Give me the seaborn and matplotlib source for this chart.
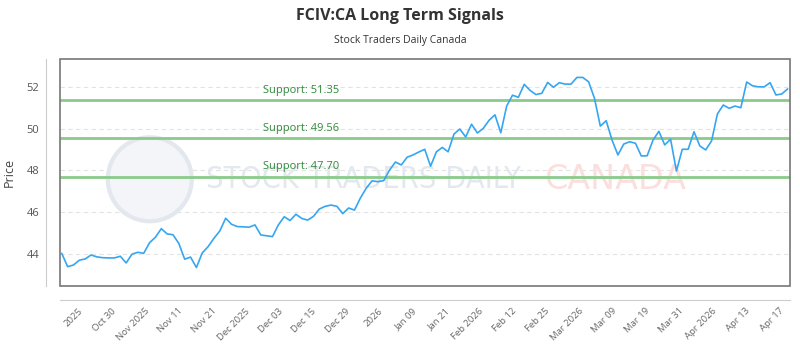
import numpy as np
import pandas as pd
import matplotlib
matplotlib.use("Agg")
import matplotlib.pyplot as plt
import seaborn as sns
from matplotlib.patches import Ellipse, Rectangle

# prix (125 séances)
prices = [
    44.03, 43.39, 43.47, 43.70, 43.76, 43.95, 43.86, 43.82, 43.81, 43.81,
    43.89, 43.57, 43.99, 44.08, 44.03, 44.54, 44.80, 45.21, 44.96, 44.92,
    44.50, 43.75, 43.85, 43.35, 44.05, 44.35, 44.75, 45.10, 45.71, 45.42,
    45.31, 45.30, 45.28, 45.39, 44.91, 44.87, 44.83, 45.39, 45.78, 45.60,
    45.90, 45.70, 45.62, 45.80, 46.15, 46.28, 46.34, 46.28, 45.93, 46.20,
    46.10, 46.67, 47.14, 47.50, 47.46, 47.51, 48.02, 48.40, 48.26, 48.63,
    48.74, 48.88, 49.01, 48.20, 48.89, 49.10, 48.89, 49.74, 49.98, 49.60,
    50.21, 49.79, 50.01, 50.40, 50.66, 49.80, 51.08, 51.60, 51.50, 52.12,
    51.83, 51.63, 51.69, 52.21, 51.98, 52.20, 52.13, 52.13, 52.45, 52.45,
    52.24, 51.45, 50.12, 50.38, 49.45, 48.74, 49.26, 49.37, 49.30, 48.69,
    48.70, 49.45, 49.87, 49.22, 49.49, 47.97, 49.01, 49.01, 49.85, 49.17,
    48.98, 49.41, 50.70, 51.13, 50.97, 51.08, 51.00, 52.23, 52.05, 52.00,
    52.00, 52.20, 51.61, 51.66, 51.90,
]

tick_labels = ["2025", "Oct 30", "Nov 2025", "Nov 11", "Nov 21", "Dec 2025",
               "Dec 03", "Dec 15", "Dec 29", "2026", "Jan 09", "Jan 21",
               "Feb 2026", "Feb 12", "Feb 25", "Mar 2026", "Mar 09", "Mar 19",
               "Mar 31", "Apr 2026", "Apr 13", "Apr 17"]

supports = [51.35, 49.56, 47.70]
y_ticks = [44, 46, 48, 50, 52]

df = pd.DataFrame({"idx": np.arange(len(prices)), "Price": prices})

sns.set_style("white")
plt.rcParams["font.family"] = ["Open Sans", "DejaVu Sans"]

fig = plt.figure(figsize=(8, 3.5), dpi=100)
ax = fig.add_axes([0.075, 0.1837, 0.9125, 0.647])

# axes décalés (avant les ticks, set_position les réinitialise)
for side in ["top", "right"]:
    ax.spines[side].set_visible(False)
ax.spines["left"].set_position(("outward", 10))
ax.spines["bottom"].set_position(("outward", 10))
ax.spines["left"].set_color("#cccccc")
ax.spines["bottom"].set_color("#cccccc")

# grille pointillée
for v in y_ticks:
    ax.axhline(v, color="#e3e3e3", lw=0.8, ls=(0, (4, 3)), zorder=0)

# filigrane
ax.add_patch(Ellipse((0.123, 0.47), 84 / 730, 84 / 226.4, transform=ax.transAxes,
                     facecolor="#f3f5f9", edgecolor="#e3e7ee", lw=3, zorder=0))
ax.text(0.2, 0.47, "STOCK TRADERS DAILY", transform=ax.transAxes,
        fontsize=22, fontstretch="condensed", color="#e3e8ef", va="center",
        ha="left", zorder=0, family=["DejaVu Sans"])
ax.text(0.663, 0.47, "CANADA", transform=ax.transAxes,
        fontsize=24, color="#fbdfdf", va="center", ha="left", zorder=0,
        family=["DejaVu Sans"])

sns.lineplot(data=df, x="idx", y="Price", ax=ax, color="#35a6f2", lw=1.2, zorder=3)

for s in supports:
    ax.axhline(s, color="#8acb8a", lw=2, zorder=2)
    ax.annotate(f"Support: {s:.2f}", xy=(34.4, s), xytext=(0, 3),
                textcoords="offset points", color="#2f8a3a", fontsize=8,
                ha="left", va="bottom", zorder=4)

ax.set_xlim(-0.3, 124.4)
ax.set_ylim(42.48, 53.32)
ax.set_yticks(y_ticks)
ax.set_xticks(np.linspace(2.8, 122.5, len(tick_labels)))
ax.set_xticklabels(tick_labels)
ax.tick_params(axis="x", length=0, pad=5, labelsize=6.8, labelcolor="#666666")
ax.tick_params(axis="y", length=0, pad=5, labelsize=8, labelcolor="#555555")
plt.setp(ax.get_xticklabels(), rotation=45, ha="right", rotation_mode="anchor")
ax.set_xlabel("")
ax.set_ylabel("Price", fontsize=9, color="#444444")
ax.yaxis.set_label_coords(-0.06, 0.5)

# cadre
ax.add_patch(Rectangle((0, 0), 1, 1, transform=ax.transAxes, fill=False,
                       edgecolor="#777777", lw=1.2, zorder=5, clip_on=False))

fig.text(0.5, 0.955, "FCIV:CA Long Term Signals", ha="center", va="center",
         fontsize=11.5, fontweight="bold", color="#333333")
fig.text(0.5, 0.885, "Stock Traders Daily Canada", ha="center", va="center",
         fontsize=7.5, color="#333333")

fig.savefig("out.png", dpi=100)
